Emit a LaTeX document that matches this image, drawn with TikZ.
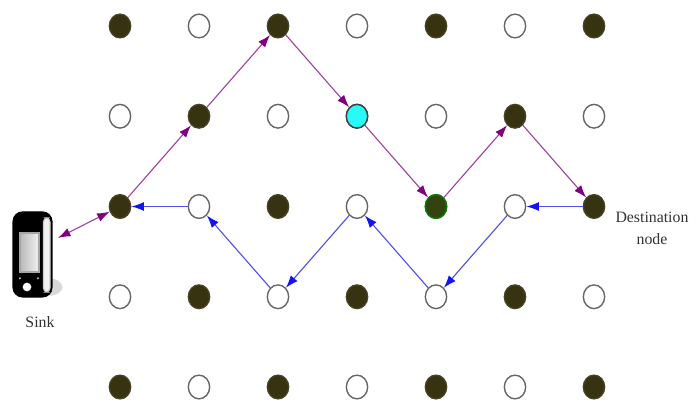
\documentclass[tikz,border=0pt]{standalone}
\usepackage{fontspec}
\setmainfont{Liberation Serif}
\usetikzlibrary{%
  arrows.meta,%
  shapes.geometric,% wg. ellipse
  positioning,%
  calc
}
\definecolor{nodefill}{RGB}{55,50,15}
\definecolor{nodecyan}{RGB}{40,250,250}
\definecolor{pathpurple}{RGB}{128,0,128}
\definecolor{pathblue}{RGB}{20,20,240}

\begin{document}
\begin{tikzpicture}[
  font=\fontsize{5.7}{7.9}\selectfont, >={Latex[length=4.5pt,width=3.2pt]}, line width=0.4pt,
  sensor/.style={ellipse, minimum width=2.7mm, minimum height=3mm, inner sep=0pt, line width=0.5pt},
  sensorfull/.style={sensor, draw=nodefill!80!gray, fill=nodefill},
  sensorempty/.style={sensor, draw=gray!80!black, fill=white},
  sensorcyan/.style={sensor, draw=gray!50!black, fill=nodecyan},
  sensorgreen/.style={sensor, draw=green!50!black, fill=nodefill!92!green},
  purplepath/.style={->, draw=pathpurple!75, >={Latex[length=4.5pt,width=3.2pt,color=pathpurple]}},
  bluepath/.style={->, draw=pathblue!75, >={Latex[length=4.5pt,width=3.2pt,color=pathblue]}},
  textlabel/.style={text=black!80, align=center, inner sep=0pt}
]
\useasboundingbox (0,0) rectangle (8.823,5.063);

% sensor grid
\foreach \c in {0,...,6} {
  \foreach \r in {0,...,4} {
    \pgfmathtruncatemacro\pc{mod(\c+\r,2)}
    \ifnum\pc=0
      \node[sensorfull] (n\c\r) at (1.519+\c, 4.734-1.1425*\r) {};
    \else
      \node[sensorempty] (n\c\r) at (1.519+\c, 4.734-1.1425*\r) {};
    \fi
  }
}
\node[sensorcyan] (n31) at (n31) {};
\node[sensorgreen] (n42) at (n42) {};

% sink
\fill[gray!30] (0.620,1.430) ellipse (0.17 and 0.11);
\draw[black, fill=black, rounded corners=0.12cm] (0.165,1.304) rectangle (0.658,2.380);
\draw[gray!40, fill=gray!10, rounded corners=0.05cm] (0.550,1.367) rectangle (0.633,2.304);
\shade[left color=gray!55, right color=gray!10, draw=gray!70] (0.253,1.620) rectangle (0.494,2.114);
\fill[white] (0.342,1.430) circle (0.055);
\fill[gray!60] (0.253,1.540) circle (0.015);
\fill[gray!60] (0.480,1.540) circle (0.015);
\coordinate (sink) at (0.734,2.051);
\node[textlabel] (sinklabel) at (0.506,0.987) {Sink};

\node[textlabel] (destlabel) at (8.253,2.177) {Destination\\node};

% paths
\draw[purplepath, <->] (sink) -- (n02);
\draw[purplepath] (n02) -- (n11);
\draw[purplepath] (n11) -- (n20);
\draw[purplepath] (n20) -- (n31);
\draw[purplepath] (n31) -- (n42);
\draw[purplepath] (n42) -- (n51);
\draw[purplepath] (n51) -- (n62);

\draw[bluepath] (n62) -- (n52);
\draw[bluepath] (n52) -- (n43);
\draw[bluepath] (n43) -- (n32);
\draw[bluepath] (n32) -- (n23);
\draw[bluepath] (n23) -- (n12);
\draw[bluepath] (n12) -- (n02);
\end{tikzpicture}
\end{document}
